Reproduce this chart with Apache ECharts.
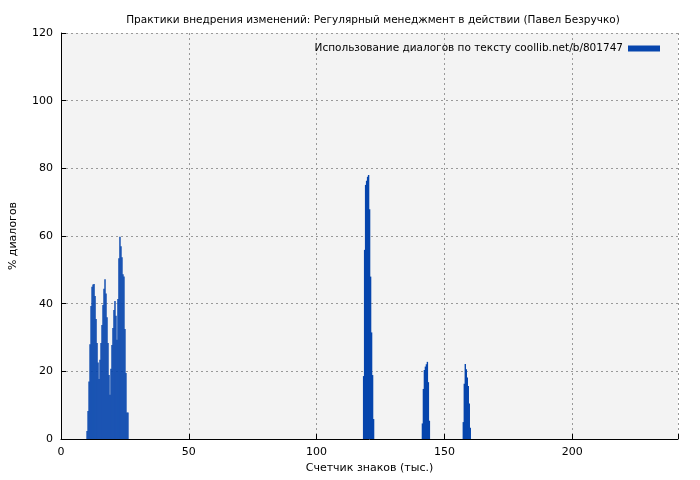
<!DOCTYPE html>
<html><head><meta charset="utf-8">
<script src="https://cdn.jsdelivr.net/npm/echarts@6/dist/echarts.min.js"></script>
<style>html,body{margin:0;background:#fff}#c{width:700px;height:480px}</style>
</head><body><div id="c"></div>
<script>
const titleText = 'Практики внедрения изменений: Регулярный менеджмент в действии (Павел Безручко)';
const seriesName = 'Использование диалогов по тексту coollib.net/b/801747';
const step = 0.39;
const starts1 = 10.2, starts2 = 118.4, starts3 = 141.4, starts4 = 157.4;
const heights1 = [2.4,8.3,17,28,39.3,45,45.7,45.8,42.3,35.5,28.4,22.6,17.7,23.4,28.4,33.7,39.6,44.4,47.2,43,36,28.4,18.9,13.1,20.8,27.8,32.8,38.1,40.8,36.4,29.3,41.4,53.4,59.8,57,53.7,48.7,48,32.5,19.5,7.8,7.8];
const heights2 = [18.6,55.9,75.1,76.3,77.5,78,67.9,48,31.5,18.9,5.9];
const heights3 = [4.6,14.8,20.4,21.4,22.1,22.8,16.8,5.4];
const heights4 = [5,16.3,22.2,20.6,18.2,15.7,10.5,3.3];
const clusters = [[starts1,heights1],[starts2,heights2],[starts3,heights3],[starts4,heights4]];
const data = [];
clusters.forEach(([s,h]) => h.forEach((v,i) => data.push([+(s + i*step).toFixed(2), v])));
const font = 'DejaVu Sans';
const chart = echarts.init(document.getElementById('c'));
chart.setOption({
  animation:false,
  textStyle:{fontFamily:font},
  title:{text:titleText,left:368,textAlign:'center',top:10,textStyle:{fontSize:10.5,fontWeight:'normal',color:'#000',fontFamily:font}},
  legend:{top:38,right:35,itemWidth:32,itemHeight:6,itemGap:5,icon:'rect',align:'right',textStyle:{fontSize:10.5,color:'#000',fontFamily:font},data:[seriesName]},
  grid:{left:60,right:22,top:33,bottom:41,show:true,backgroundColor:'#f3f3f3',borderWidth:0},
  xAxis:{type:'value',min:0,max:241.4,interval:50,name:'Счетчик знаков (тыс.)',nameLocation:'middle',nameGap:22,
    nameTextStyle:{fontSize:11,color:'#000'},
    axisLine:{lineStyle:{color:'#000'}},axisTick:{inside:true,length:5,lineStyle:{color:'#000'}},
    axisLabel:{fontSize:11,color:'#000',formatter:v=>v>240?'':v},
    splitLine:{lineStyle:{type:[2,3],color:'#999'}}},
  yAxis:{type:'value',min:0,max:120,interval:20,name:'% диалогов',nameLocation:'middle',nameGap:42,
    nameTextStyle:{fontSize:11,color:'#000'},
    axisLine:{show:true,lineStyle:{color:'#000'}},axisTick:{show:true,inside:true,length:5,lineStyle:{color:'#000'}},
    axisLabel:{fontSize:11,color:'#000'},
    splitLine:{lineStyle:{type:[2,3],color:'#999'}}},
  series:[{name:seriesName,type:'bar',data:data,barWidth:1.4,barGap:'-100%',itemStyle:{color:'#0645ad'}}]
});
</script></body></html>
